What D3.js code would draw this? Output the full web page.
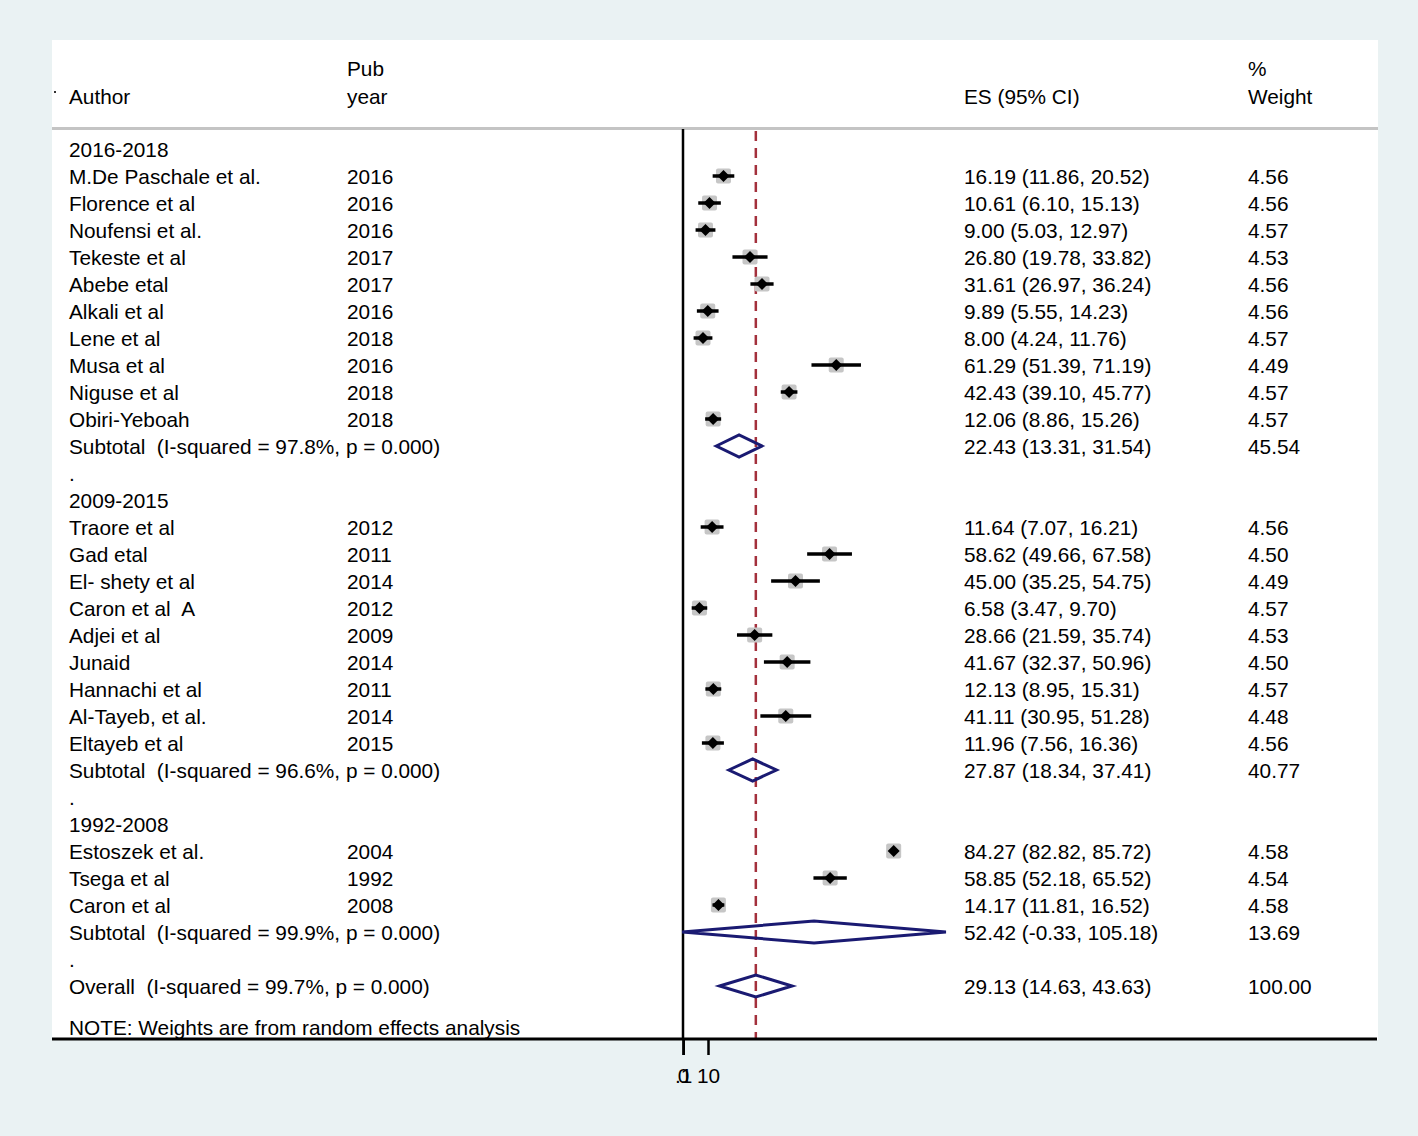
<!DOCTYPE html>
<html>
<head>
<meta charset="utf-8">
<script src="https://cdn.jsdelivr.net/npm/d3@7"></script>
<style>
  body { margin: 0; background: #eaf2f3; }
  svg text { font-family: "Liberation Sans", Arial, Helvetica, sans-serif; font-size: 20.8px; fill: #000; white-space: pre; }
</style>
</head>
<body>
<svg id="chart" width="1418" height="1136"></svg>
<script>
// study groups
const groups = ["2016-2018", "2009-2015", "1992-2008"];

const authors = [
  ["M.De Paschale et al.", "Florence et al", "Noufensi et al.", "Tekeste et al", "Abebe etal",
   "Alkali et al", "Lene et al", "Musa et al", "Niguse et al", "Obiri-Yeboah"],
  ["Traore et al", "Gad etal", "El- shety et al", "Caron et al  A", "Adjei et al",
   "Junaid", "Hannachi et al", "Al-Tayeb, et al.", "Eltayeb et al"],
  ["Estoszek et al.", "Tsega et al", "Caron et al"]
];
const years = [
  [2016, 2016, 2016, 2017, 2017, 2016, 2018, 2016, 2018, 2018],
  [2012, 2011, 2014, 2012, 2009, 2014, 2011, 2014, 2015],
  [2004, 1992, 2008]
];
const es = [
  [16.19, 10.61, 9.00, 26.80, 31.61, 9.89, 8.00, 61.29, 42.43, 12.06],
  [11.64, 58.62, 45.00, 6.58, 28.66, 41.67, 12.13, 41.11, 11.96],
  [84.27, 58.85, 14.17]
];
const lo = [
  [11.86, 6.10, 5.03, 19.78, 26.97, 5.55, 4.24, 51.39, 39.10, 8.86],
  [7.07, 49.66, 35.25, 3.47, 21.59, 32.37, 8.95, 30.95, 7.56],
  [82.82, 52.18, 11.81]
];
const hi = [
  [20.52, 15.13, 12.97, 33.82, 36.24, 14.23, 11.76, 71.19, 45.77, 15.26],
  [16.21, 67.58, 54.75, 9.70, 35.74, 50.96, 15.31, 51.28, 16.36],
  [85.72, 65.52, 16.52]
];
const weights = [
  [4.56, 4.56, 4.57, 4.53, 4.56, 4.56, 4.57, 4.49, 4.57, 4.57],
  [4.56, 4.50, 4.49, 4.57, 4.53, 4.50, 4.57, 4.48, 4.56],
  [4.58, 4.54, 4.58]
];
const subI2 = ["97.8", "96.6", "99.9"];
const subES = [22.43, 27.87, 52.42];
const subLo = [13.31, 18.34, -0.33];
const subHi = [31.54, 37.41, 105.18];
const subW = [45.54, 40.77, 13.69];
const overall = { es: 29.13, lo: 14.63, hi: 43.63, i2: "99.7" };
const tickVals = [0, 0.1, 10];
const tickLabels = ["0", ".1", "10"];

const svg = d3.select("#chart");
const fmt = v => v.toFixed(2);

// panel
const panel = { left: 52, right: 1378, top: 40, bottom: 1040 };
svg.append("rect")
  .attr("x", panel.left).attr("y", panel.top)
  .attr("width", panel.right - panel.left).attr("height", panel.bottom - panel.top)
  .attr("fill", "#fff");

// x scale: 0 at 683, 10 at 708
const x = d3.scaleLinear().domain([0, 10]).range([683, 708]);

// build rows
const rows = [];
groups.forEach((g, gi) => {
  rows.push({ type: "group", label: g });
  authors[gi].forEach((a, i) => {
    rows.push({ type: "study", label: a, year: years[gi][i], es: es[gi][i], lo: lo[gi][i], hi: hi[gi][i], w: weights[gi][i] });
  });
  rows.push({ type: "sub", label: `Subtotal  (I-squared = ${subI2[gi]}%, p = 0.000)`, es: subES[gi], lo: subLo[gi], hi: subHi[gi], w: subW[gi] });
  rows.push({ type: "dot", label: "." });
});
rows.push({ type: "sub", label: `Overall  (I-squared = ${overall.i2}%, p = 0.000)`, es: overall.es, lo: overall.lo, hi: overall.hi, w: 100 });

const y = d3.scaleLinear().domain([0, 1]).range([149, 176]);
const rowY = i => y(i);

const colAuthor = 69, colYear = 347, colES = 964, colW = 1248;

// header
svg.append("text").attr("x", colYear).attr("y", 76).text("Pub");
svg.append("text").attr("x", colAuthor).attr("y", 104).text("Author");
svg.append("text").attr("x", colYear).attr("y", 104).text("year");
svg.append("text").attr("x", colES).attr("y", 104).text("ES (95% CI)");
svg.append("text").attr("x", colW).attr("y", 76).text("%");
svg.append("text").attr("x", colW).attr("y", 104).text("Weight");
svg.append("rect").attr("x", 54).attr("y", 91).attr("width", 2).attr("height", 2).attr("fill", "#333");

svg.append("line")
  .attr("x1", panel.left).attr("x2", panel.right)
  .attr("y1", 128.5).attr("y2", 128.5)
  .attr("stroke", "#c4c4c4").attr("stroke-width", 3);

const axisY = 1039;

// null line and overall line
svg.append("line")
  .attr("x1", x(0)).attr("x2", x(0))
  .attr("y1", 129).attr("y2", axisY)
  .attr("stroke", "#000").attr("stroke-width", 2.5);

svg.append("line")
  .attr("x1", x(overall.es)).attr("x2", x(overall.es))
  .attr("y1", 131).attr("y2", axisY)
  .attr("stroke", "#a3303c").attr("stroke-width", 2.5)
  .attr("stroke-dasharray", "10,7");

// rows
rows.forEach((r, i) => {
  const yy = rowY(i);
  const ty = yy + 8;
  svg.append("text").attr("x", colAuthor).attr("y", ty).text(r.label);
  if (r.type === "study") {
    svg.append("text").attr("x", colYear).attr("y", ty).text(r.year);
    svg.append("text").attr("x", colES).attr("y", ty).text(`${fmt(r.es)} (${fmt(r.lo)}, ${fmt(r.hi)})`);
    svg.append("text").attr("x", colW).attr("y", ty).text(fmt(r.w));
    const cx = x(r.es);
    svg.append("rect")
      .attr("x", cx - 7.5).attr("y", yy - 7.5)
      .attr("width", 15).attr("height", 15).attr("rx", 2)
      .attr("fill", "#c6c6c6");
    svg.append("line")
      .attr("x1", x(r.lo)).attr("x2", x(r.hi))
      .attr("y1", yy).attr("y2", yy)
      .attr("stroke", "#000").attr("stroke-width", 3.5);
    svg.append("path")
      .attr("d", `M${cx - 6},${yy} L${cx},${yy - 6} L${cx + 6},${yy} L${cx},${yy + 6} Z`)
      .attr("fill", "#000");
  } else if (r.type === "sub") {
    svg.append("text").attr("x", colES).attr("y", ty).text(`${fmt(r.es)} (${fmt(r.lo)}, ${fmt(r.hi)})`);
    svg.append("text").attr("x", colW).attr("y", ty).text(fmt(r.w));
    const h = 11;
    svg.append("path")
      .attr("d", `M${x(r.lo)},${yy} L${x(r.es)},${yy - h} L${x(r.hi)},${yy} L${x(r.es)},${yy + h} Z`)
      .attr("fill", "none").attr("stroke", "#1a1a72").attr("stroke-width", 3)
      .attr("stroke-linejoin", "miter");
  }
});

svg.append("text").attr("x", colAuthor).attr("y", 1035).text("NOTE: Weights are from random effects analysis");

// axis
svg.append("line")
  .attr("x1", panel.left).attr("x2", panel.right - 1)
  .attr("y1", axisY).attr("y2", axisY)
  .attr("stroke", "#000").attr("stroke-width", 3);

const axis = d3.axisBottom(x).tickValues(tickVals).tickFormat((d, i) => tickLabels[i])
  .tickSize(15).tickSizeOuter(0).tickPadding(13);
const ag = svg.append("g").attr("transform", `translate(0,${axisY + 1})`).call(axis);
ag.select(".domain").remove();
ag.selectAll(".tick line").attr("stroke", "#000").attr("stroke-width", 2.5);
ag.selectAll(".tick text").attr("font-size", null).attr("font-family", null).attr("fill", "#000");
</script>
</body>
</html>
